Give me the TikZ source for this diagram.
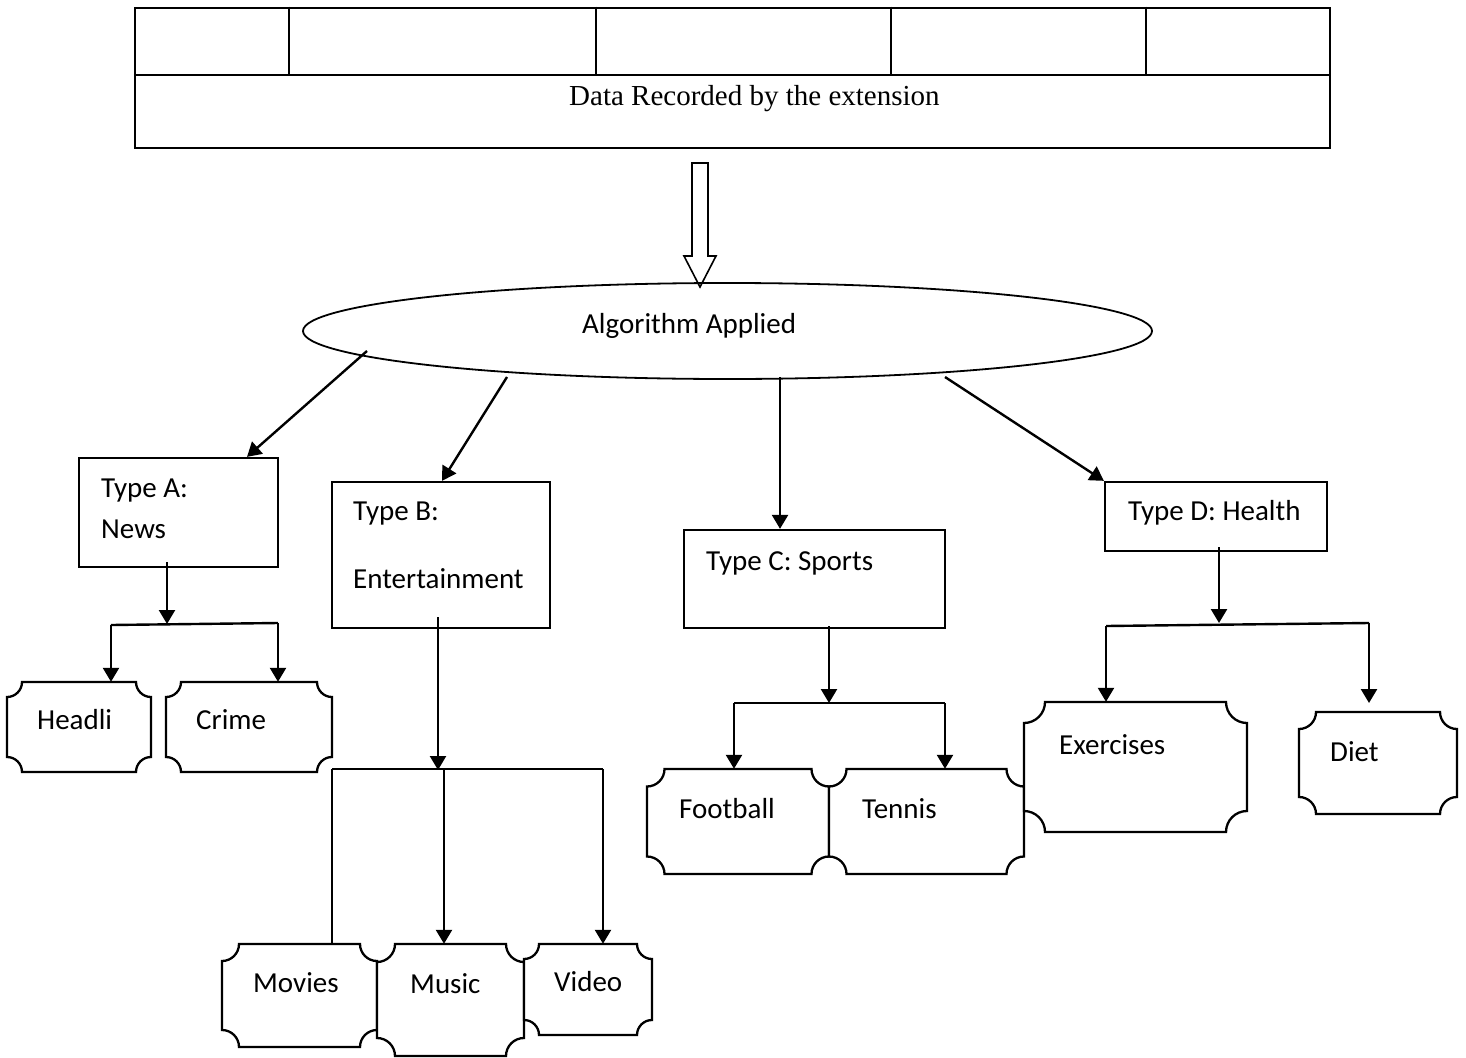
\documentclass[tikz,border=0pt]{standalone}
\usepackage{fontspec}
\setmainfont{Liberation Serif}
\newfontfamily\calib{Carlito}
\usetikzlibrary{arrows.meta,shapes.geometric,fit}
\tikzset{
  txt/.style={inner sep=0pt, anchor=base west, font=\calib\fontsize{29}{35}\selectfont},
  typebox/.style={draw, line width=2.3pt, inner sep=0pt},
  plaque/.style={draw, line width=2.3pt, fill=white},
  arr/.style={line width=2.4pt, -{Triangle[length=14pt,width=16pt]}},
  ln/.style={line width=2.4pt},
}
\newcommand\plq[6]{%
  \draw[plaque] (#2+#6,#3) -- (#4-#6,#3) arc[start angle=180,end angle=90,radius=#6]
    -- (#4,#5-#6) arc[start angle=270,end angle=180,radius=#6]
    -- (#2+#6,#5) arc[start angle=0,end angle=-90,radius=#6]
    -- (#2,#3+#6) arc[start angle=90,end angle=0,radius=#6] -- cycle;
  \coordinate (#1-nw) at (#2,#3);
  \coordinate (#1-se) at (#4,#5);
  \node[inner sep=0pt, fit=(#1-nw)(#1-se)] (#1) {};
}
\begin{document}
\begin{tikzpicture}[x=1pt,y=-1pt]
\useasboundingbox[fill=white] (0,0) rectangle (1466,1057);

% top table
\node[draw, line width=2.5pt, inner sep=0pt, minimum width=1195pt, minimum height=140pt] (table) at (732.5,78) {};
\draw[line width=2.5pt] (table.west |- 0,75) coordinate (rowL) -- (rowL -| table.east);
\foreach \x in {289,596,891,1146}{
  \draw[line width=2.5pt] (\x,0 |- table.north) -- (\x,75);
}
\node[inner sep=0pt, anchor=base west, font=\fontsize{29}{35}\selectfont] (tabletext) at (569,105) {Data Recorded by the extension};

% block arrow
\draw[line width=1.6pt, fill=white] (692,163) -- (708,163) -- (708,256) -- (716,256) -- (700,287) -- (684,256) -- (692,256) -- cycle;

% ellipse
\node[draw, ellipse, line width=1.8pt, inner sep=0pt, minimum width=849pt, minimum height=96pt] (alg) at (727.5,331) {};
\node[txt] (algtext) at (582,333) {Algorithm Applied};

% type boxes
\node[typebox, minimum width=199pt, minimum height=109pt] (typeA) at (178.5,512.5) {};
\node[typebox, minimum width=218pt, minimum height=146pt] (typeB) at (441,555) {};
\node[typebox, minimum width=261pt, minimum height=98pt] (typeC) at (814.5,579) {};
\node[typebox, minimum width=222pt, minimum height=69pt] (typeD) at (1216,516.5) {};
\node[txt] (tA1) at (101,497) {Type A:};
\node[txt] (tA2) at (101,538) {News};
\node[txt] (tB1) at (353,520) {Type B:};
\node[txt] (tB2) at (353,588) {Entertainment};
\node[txt] (tC) at (706,570) {Type C: Sports};
\node[txt] (tD) at (1128,520) {Type D: Health};

% arrows from ellipse
\coordinate (eA) at (367,351);
\coordinate (eB) at (507,377);
\coordinate (eC) at (780,377);
\coordinate (eD) at (945,377);
\draw[arr] (eA) -- (247,0 |- typeA.north);
\draw[arr] (eB) -- (442,0 |- typeB.north);
\draw[arr] (eC) -- (eC |- typeC.north);
\draw[arr] (eD) -- (typeD.north west);

% plaques
\plq{headli}{7}{682}{151}{772}{15}
\plq{crime}{166}{682}{332}{772}{15}
\plq{movies}{222}{944}{377}{1047}{17}
\plq{music}{377}{944}{524}{1056}{18}
\plq{video}{524}{944}{652}{1035}{15}
\plq{football}{647}{769}{829}{874}{17.5}
\plq{tennis}{829}{769}{1024}{874}{17.5}
\plq{exercises}{1024}{702}{1247}{832}{21}
\plq{diet}{1299}{712}{1457}{814}{17}
\node[txt] (headlitext) at (37,729) {Headli};
\node[txt] (crimetext) at (196,729) {Crime};
\node[txt] (moviestext) at (253,992) {Movies};
\node[txt] (musictext) at (410,993) {Music};
\node[txt] (videotext) at (554,991) {Video};
\node[txt] (footballtext) at (679,818) {Football};
\node[txt] (tennistext) at (862,818) {Tennis};
\node[txt] (exercisestext) at (1059,754) {Exercises};
\node[txt] (diettext) at (1330,761) {Diet};

% Type A subtree
\coordinate (aOut) at (167,562);
\coordinate (aL) at (111,625);
\coordinate (aR) at (278,623);
\draw[arr] (aOut) -- (167,624);
\draw[ln] (aL) -- (aR);
\draw[arr] (aL) -- (aL |- headli.north);
\draw[arr] (aR) -- (aR |- crime.north);

% Type B subtree
\coordinate (bOut) at (438,617);
\coordinate (bL) at (332,769);
\coordinate (bM) at (444,769);
\coordinate (bR) at (603,769);
\draw[arr] (bOut) -- (438,770);
\draw[ln] (bL) -- (bR);
\draw[ln] (bL) -- (bL |- movies.north);
\draw[arr] (bM) -- (bM |- music.north);
\draw[arr] (bR) -- (bR |- video.north);

% Type C subtree
\coordinate (cOut) at (829,626);
\coordinate (cL) at (734,703);
\coordinate (cR) at (945,703);
\draw[arr] (cOut) -- (829,703);
\draw[ln] (cL) -- (cR);
\draw[arr] (cL) -- (cL |- football.north);
\draw[arr] (cR) -- (cR |- tennis.north);

% Type D subtree
\coordinate (dOut) at (1219,547);
\coordinate (dL) at (1106,626);
\coordinate (dR) at (1369,623);
\coordinate (dRend) at (1369,703);
\draw[arr] (dOut) -- (1219,623);
\draw[ln] (dL) -- (dR);
\draw[arr] (dL) -- (dL |- exercises.north);
\draw[arr] (dR) -- (dRend);
\end{tikzpicture}
\end{document}
